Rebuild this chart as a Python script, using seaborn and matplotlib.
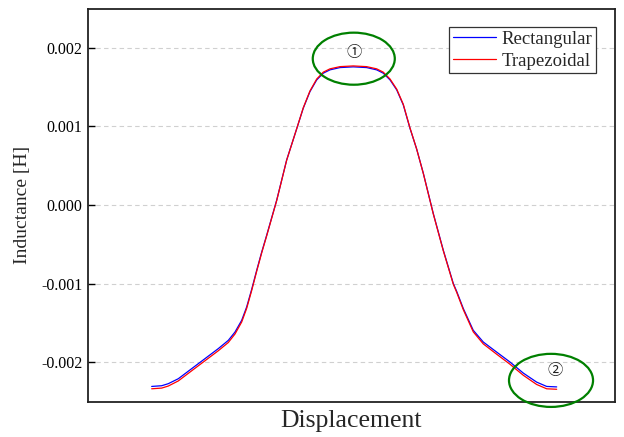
import numpy as np
import pandas as pd
import matplotlib
matplotlib.use('Agg')
import matplotlib.pyplot as plt
from matplotlib.patches import Ellipse
from matplotlib.ticker import FormatStrFormatter
import seaborn as sns

# displacement (arbitrary units, no ticks shown) and inductance in mH
displacement = [0.00, 0.99, 1.64, 2.63, 3.95, 5.26, 6.58, 7.57, 8.23, 8.89, 9.38, 9.88,
                10.37, 10.86, 11.36, 12.35, 13.33, 14.32, 14.97, 15.63, 16.30, 16.95,
                17.61, 18.60, 19.91, 21.23, 22.22, 22.87, 23.54, 24.20, 24.85, 25.51,
                26.17, 26.83, 27.81, 28.80, 29.79, 30.12, 30.78, 31.76, 32.75, 34.07,
                35.39, 36.70, 38.02, 39.01, 40.00]
rectangular = [-2.306, -2.297, -2.271, -2.208, -2.080, -1.953, -1.825, -1.720, -1.614,
               -1.465, -1.296, -1.070, -0.830, -0.600, -0.382, 0.064, 0.573, 0.970,
               1.232, 1.443, 1.592, 1.678, 1.720, 1.749, 1.758, 1.749, 1.720, 1.678,
               1.592, 1.465, 1.274, 0.977, 0.713, 0.404, -0.106, -0.573, -0.997, -1.096,
               -1.316, -1.592, -1.741, -1.869, -1.996, -2.136, -2.251, -2.306, -2.312]
trapezoidal = [-2.336, -2.327, -2.301, -2.236, -2.107, -1.980, -1.852, -1.747, -1.639,
               -1.487, -1.314, -1.085, -0.842, -0.610, -0.390, 0.059, 0.570, 0.970,
               1.237, 1.451, 1.604, 1.691, 1.733, 1.761, 1.770, 1.761, 1.733, 1.691,
               1.604, 1.475, 1.282, 0.982, 0.713, 0.401, -0.111, -0.580, -1.007, -1.108,
               -1.331, -1.612, -1.765, -1.896, -2.024, -2.164, -2.281, -2.336, -2.342]
series_names = ['Rectangular', 'Trapezoidal']
y_ticks = [-0.002, -0.001, 0.0, 0.001, 0.002]

df = pd.DataFrame({
    'Displacement': displacement * 2,
    'Inductance': np.array(rectangular + trapezoidal) * 1e-3,
    'Shape': [series_names[0]] * len(displacement) + [series_names[1]] * len(displacement),
})

sns.set_theme(style='white')
plt.rcParams['font.family'] = ['Liberation Serif', 'Noto Sans CJK SC', 'DejaVu Sans']
plt.rcParams['axes.unicode_minus'] = False

fig = plt.figure(figsize=(6.24, 4.37), dpi=100)
ax = fig.add_axes([0.141, 0.0808, 0.8446, 0.8997])

sns.lineplot(data=df, x='Displacement', y='Inductance', hue='Shape',
             palette={'Rectangular': 'blue', 'Trapezoidal': 'red'},
             linewidth=0.9, solid_joinstyle='round', ax=ax)

ax.set_xlim(-6.29, 45.76)
ax.set_ylim(-0.0025, 0.0025)
ax.set_xticks([])
ax.set_yticks(y_ticks)
ax.yaxis.set_major_formatter(FormatStrFormatter('%.3f'))
ax.tick_params(axis='y', direction='in', length=5, width=1, labelsize=11.5,
               left=True, colors='black', pad=4)
ax.yaxis.grid(True, linestyle=(0, (4, 3)), color='#d0d0d0', linewidth=0.8)
ax.xaxis.grid(False)
for side, sp in ax.spines.items():
    sp.set_color('#222222')
    sp.set_linewidth(1.3)

ax.set_xlabel('Displacement', fontsize=18.5, labelpad=6)
ax.set_ylabel('Inductance [H]', fontsize=14, labelpad=7)

# annotation ellipses
ax.add_patch(Ellipse((19.96, 1.862e-3), 8.1, 0.662e-3, fill=False,
                     edgecolor='green', linewidth=1.6, clip_on=False, zorder=5))
ax.add_patch(Ellipse((39.44, -2.229e-3), 8.3, 0.675e-3, fill=False,
                     edgecolor='green', linewidth=1.6, clip_on=False, zorder=5))
ax.text(19.98, 1.936e-3, '\u2460', ha='center', va='center', fontsize=11, color='#222222')
ax.text(39.83, -2.111e-3, '\u2461', ha='center', va='center', fontsize=11, color='#222222')

leg = ax.legend(title=None, loc='upper right', bbox_to_anchor=(0.9645, 0.953),
                fontsize=13.5, frameon=True, fancybox=False, framealpha=1,
                handlelength=2.3, handletextpad=0.3, borderpad=0.2,
                labelspacing=0.25, borderaxespad=0)
leg.get_frame().set_edgecolor('#333333')
leg.get_frame().set_linewidth(0.9)

fig.savefig('out.png', dpi=100)
